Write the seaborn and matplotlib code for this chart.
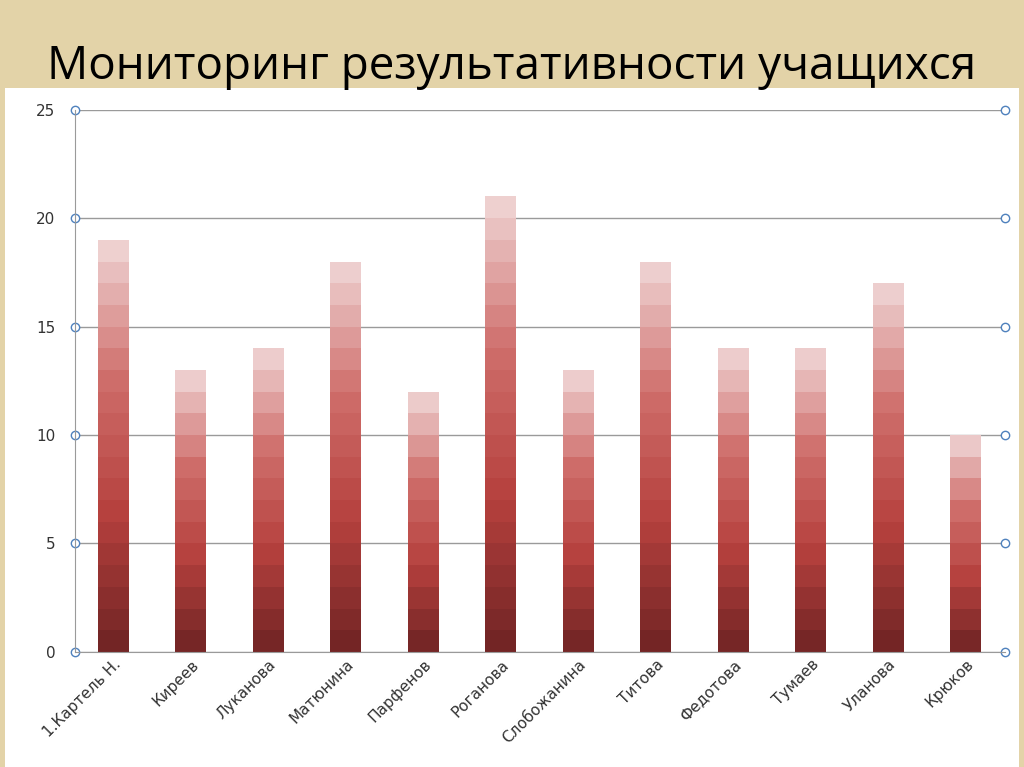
import matplotlib
matplotlib.use("Agg")
import matplotlib.pyplot as plt
import seaborn as sns
import numpy as np
import pandas as pd
from matplotlib.colors import LinearSegmentedColormap

names = ["1.Картель Н.", "Киреев", "Луканова", "Матюнина", "Парфенов", "Роганова",
         "Слобожанина", "Титова", "Федотова", "Тумаев", "Уланова", "Крюков"]
totals = [19, 13, 14, 18, 12, 21, 13, 18, 14, 14, 17, 10]
yticks = [0, 5, 10, 15, 20, 25]

sns.set_style("white")
plt.rcParams['font.family'] = ['DejaVu Sans']

fig = plt.figure(figsize=(10.24, 7.67), dpi=100)
fig.patch.set_facecolor("#e3d3a8")
panel = fig.add_axes([0.005, 0, 0.99, 0.885])
panel.set_facecolor("white"); panel.set_xticks([]); panel.set_yticks([])
for s in panel.spines.values(): s.set_visible(False)
fig.text(0.5, 0.912, "Мониторинг результативности учащихся", ha="center", va="center",
         fontsize=33, family="Open Sans", color="#000")

ax = fig.add_axes([0.073, 0.15, 0.908, 0.707])
cmap = LinearSegmentedColormap.from_list("r", ["#6e2323", "#b5403d", "#cf6e6b", "#f0d7d7"])
maxk = max(totals)
for k in range(maxk, 0, -1):
    h = [min(t, k) for t in totals]
    pal = {n: cmap((min(k, t) - 0.5) / t) for n, t in zip(names, totals)}
    d = pd.DataFrame({"name": names, "h": h})
    sns.barplot(data=d, x="name", y="h", hue="name", palette=pal, legend=False,
                width=0.4, ax=ax, saturation=1, linewidth=0)
ax.set_ylim(0, 25)
ax.set_xlim(-0.5, len(names) - 0.5)
ax.set_yticks(yticks)
ax.set_xlabel(""); ax.set_ylabel("")
ax.yaxis.grid(True, color="#9a9a9a", linewidth=1)
ax.set_axisbelow(True)
for s in ["top", "right"]: ax.spines[s].set_visible(False)
ax.spines["left"].set_color("#9a9a9a"); ax.spines["bottom"].set_color("#9a9a9a")
ax.tick_params(axis="y", labelsize=11, colors="#333", length=0, pad=14)
ax.set_xticks(range(len(names)))
ax.set_xticklabels(names, rotation=45, ha="right", rotation_mode="anchor", fontsize=11, color="#333")
ax.set_xticks(np.arange(-0.5, len(names)), minor=True)
ax.tick_params(axis="x", which="minor", length=5, color="#9a9a9a")
ax.tick_params(axis="x", which="major", length=0)
for y in yticks:
    ax.plot([0, 1], [y, y], transform=ax.get_yaxis_transform(), ls="none", marker="o",
            mfc="white", mec="#4f81bd", ms=6, clip_on=False)
fig.savefig("out.png", dpi=100, facecolor=fig.get_facecolor())
